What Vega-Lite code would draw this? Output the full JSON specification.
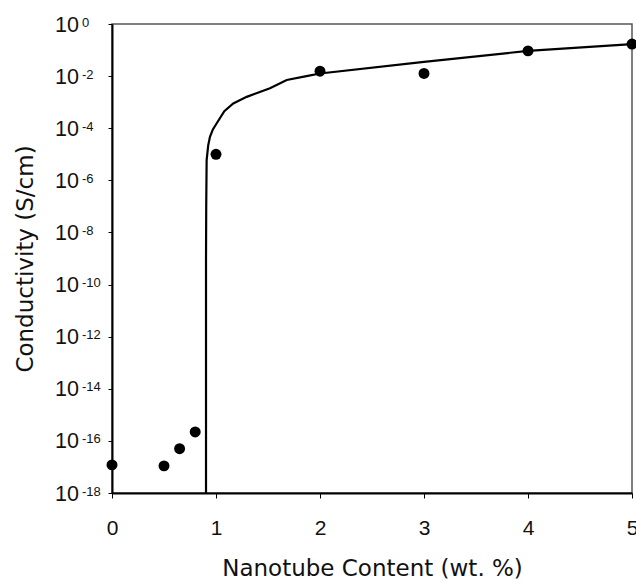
{
  "$schema": "https://vega.github.io/schema/vega-lite/v6.json",
  "width": 520,
  "height": 469,
  "autosize": {"type": "none"},
  "padding": {"left": 112, "top": 24, "right": 4, "bottom": 87},
  "background": "white",
  "config": {
    "view": {"stroke": "#555555", "strokeWidth": 1.5},
    "axis": {"grid": false, "domainColor": "#000000", "domainWidth": 2, "tickColor": "#000000", "tickWidth": 1, "labelColor": "#111111", "titleColor": "#111111"}
  },
  "datasets": {
    "measured": [
      {"content": 0, "conductivity": 1.2e-17},
      {"content": 0.5, "conductivity": 1.1e-17},
      {"content": 0.65, "conductivity": 5e-17},
      {"content": 0.8, "conductivity": 2.2e-16},
      {"content": 1, "conductivity": 1e-5},
      {"content": 2, "conductivity": 0.0155},
      {"content": 3, "conductivity": 0.0126},
      {"content": 4, "conductivity": 0.093},
      {"content": 5, "conductivity": 0.17}
    ],
    "fit": [
      {"content": 0.904, "conductivity": 1e-18},
      {"content": 0.904, "conductivity": 1e-9},
      {"content": 0.906, "conductivity": 1e-7},
      {"content": 0.91, "conductivity": 6e-6},
      {"content": 0.925, "conductivity": 2.2e-5},
      {"content": 0.942, "conductivity": 4.7e-5},
      {"content": 0.97, "conductivity": 9e-5},
      {"content": 1.007, "conductivity": 1.55e-4},
      {"content": 1.08, "conductivity": 4.5e-4},
      {"content": 1.166, "conductivity": 8.9e-4},
      {"content": 1.295, "conductivity": 1.6e-3},
      {"content": 1.519, "conductivity": 3.4e-3},
      {"content": 1.68, "conductivity": 7.1e-3},
      {"content": 1.87, "conductivity": 1.0e-2},
      {"content": 2.0, "conductivity": 1.26e-2},
      {"content": 3.0, "conductivity": 0.035},
      {"content": 4.0, "conductivity": 0.093},
      {"content": 5.0, "conductivity": 0.17}
    ],
    "yticks": [
      {"content": 0, "conductivity": 1, "base": "10", "exponent": "0"},
      {"content": 0, "conductivity": 1e-2, "base": "10", "exponent": "-2"},
      {"content": 0, "conductivity": 1e-4, "base": "10", "exponent": "-4"},
      {"content": 0, "conductivity": 1e-6, "base": "10", "exponent": "-6"},
      {"content": 0, "conductivity": 1e-8, "base": "10", "exponent": "-8"},
      {"content": 0, "conductivity": 1e-10, "base": "10", "exponent": "-10"},
      {"content": 0, "conductivity": 1e-12, "base": "10", "exponent": "-12"},
      {"content": 0, "conductivity": 1e-14, "base": "10", "exponent": "-14"},
      {"content": 0, "conductivity": 1e-16, "base": "10", "exponent": "-16"},
      {"content": 0, "conductivity": 1e-18, "base": "10", "exponent": "-18"}
    ]
  },
  "encoding": {
    "x": {
      "field": "content", "type": "quantitative",
      "scale": {"domain": [0, 5], "nice": false},
      "axis": {
        "title": "Nanotube Content (wt. %)",
        "values": [0, 1, 2, 3, 4, 5], "format": "d",
        "tickSize": 5, "labelPadding": 30, "labelBaseline": "middle", "labelFlush": false,
        "labelFont": "Liberation Sans", "labelFontSize": 21,
        "titleFont": "DejaVu Sans", "titleFontSize": 23, "titleFontWeight": "normal",
        "titleX": 260, "titleY": 75, "titleBaseline": "middle", "titleAlign": "center"
      }
    },
    "y": {
      "field": "conductivity", "type": "quantitative",
      "scale": {"type": "log", "domain": [1e-18, 1], "nice": false},
      "axis": {
        "title": "Conductivity (S/cm)",
        "values": [1, 1e-2, 1e-4, 1e-6, 1e-8, 1e-10, 1e-12, 1e-14, 1e-16, 1e-18],
        "labels": false,
        "tickSize": 4,
        "titleFont": "DejaVu Sans", "titleFontSize": 23, "titleFontWeight": "normal",
        "titleX": -87, "titleY": 234.5, "titleBaseline": "middle", "titleAlign": "center", "titleAngle": -90
      }
    }
  },
  "layer": [
    {
      "data": {"name": "fit"},
      "mark": {"type": "line", "color": "#000000", "strokeWidth": 2.2, "clip": true}
    },
    {
      "data": {"name": "measured"},
      "mark": {"type": "point", "filled": true, "color": "#000000", "opacity": 1, "size": 120}
    },
    {
      "data": {"name": "yticks"},
      "mark": {"type": "text", "align": "left", "baseline": "middle", "dx": -57, "dy": 1.5, "font": "Liberation Sans", "fontSize": 21.5, "color": "#111111", "clip": false},
      "encoding": {"text": {"field": "base"}}
    },
    {
      "data": {"name": "yticks"},
      "mark": {"type": "text", "align": "left", "baseline": "middle", "dx": -30, "dy": -1.5, "font": "Liberation Sans", "fontSize": 13, "color": "#111111", "clip": false},
      "encoding": {"text": {"field": "exponent"}}
    }
  ]
}
